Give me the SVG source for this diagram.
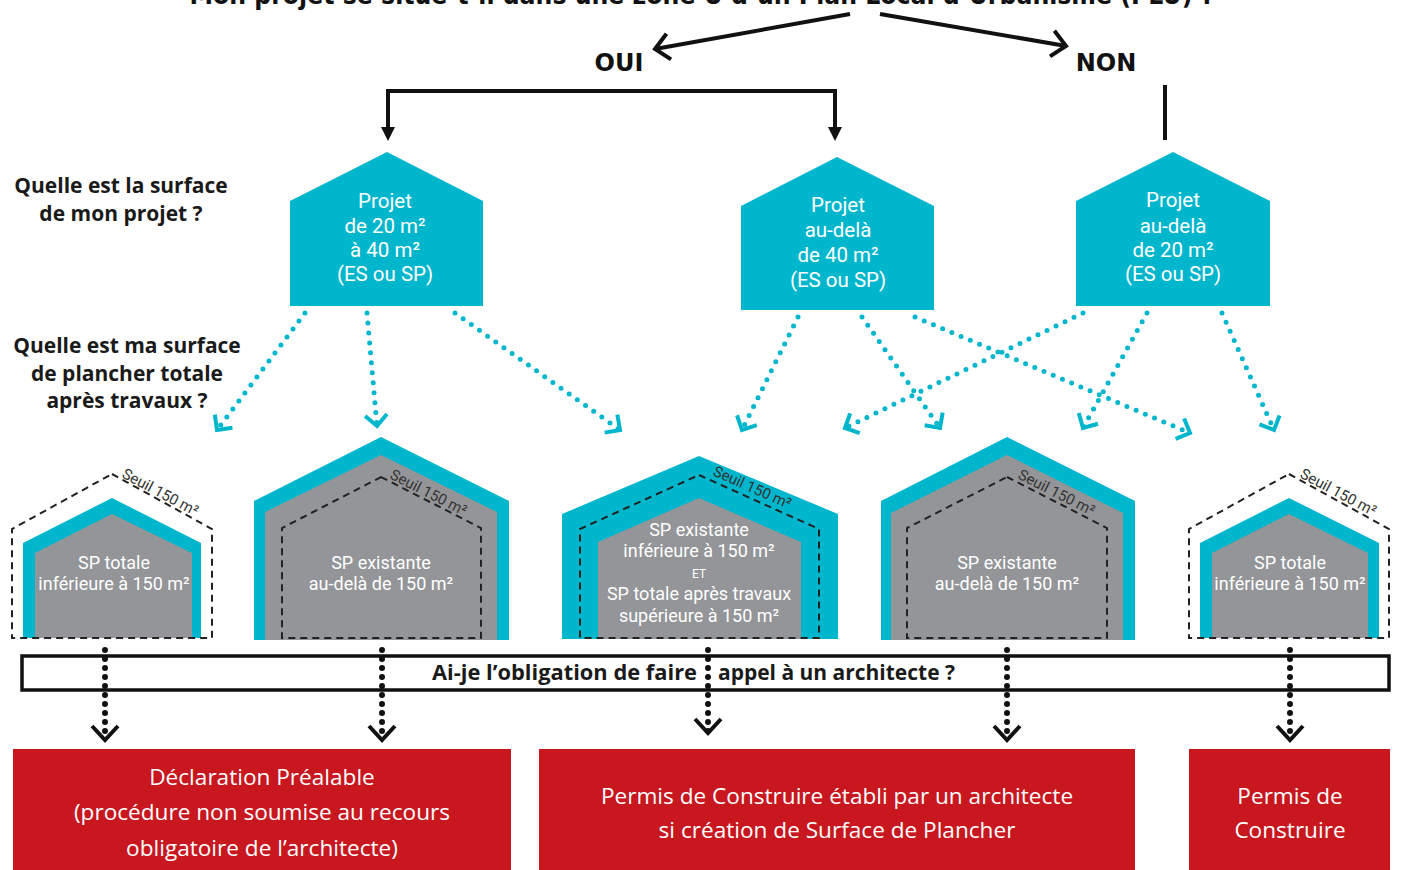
<svg xmlns="http://www.w3.org/2000/svg" width="1404" height="870" viewBox="0 0 1404 870">
<defs>
<style>
.teal{fill:#00b6cc}
.gray{fill:#939598}
.dash{fill:none;stroke:#222;stroke-width:2;stroke-dasharray:7 5}
.ht{font-family:Roboto,"Liberation Sans",sans-serif;fill:#fff;text-anchor:middle}
.up{font-size:20.5px}
.lo{font-size:18px}
.seuil{font-family:Roboto,"Liberation Sans",sans-serif;font-size:15px;fill:#333}
.q{font-family:"Open Sans","Liberation Sans",sans-serif;font-weight:bold;font-size:21px;fill:#1a1a1a;text-anchor:middle}
.yn{font-family:"DejaVu Sans",sans-serif;font-weight:bold;font-size:24px;fill:#111;text-anchor:middle}
.red{fill:#c8171f}
.rt{font-family:"Open Sans","Liberation Sans",sans-serif;font-size:22.6px;fill:#fff;text-anchor:middle}
.tdot{fill:none;stroke:#00b6cc;stroke-width:5;stroke-linecap:round;stroke-dasharray:0 10}
.bdot{fill:none;stroke:#111;stroke-width:6;stroke-linecap:round;stroke-dasharray:0 9}
.blk{fill:none;stroke:#111;stroke-width:4}
</style>
<marker id="tch" markerUnits="userSpaceOnUse" viewBox="-16 -14 20 28" markerWidth="20" markerHeight="28" refX="0" refY="0" orient="auto">
<path d="M-11,-11 L0,0 L-11,11" fill="none" stroke="#00b6cc" stroke-width="4"/>
</marker>
<marker id="bch" markerUnits="userSpaceOnUse" viewBox="-20 -16 24 32" markerWidth="24" markerHeight="32" refX="0" refY="0" orient="auto">
<path d="M-14,-13 L0,0 L-14,13" fill="none" stroke="#111" stroke-width="4"/>
</marker>
<marker id="tri" markerUnits="userSpaceOnUse" viewBox="0 -8 16 16" markerWidth="16" markerHeight="16" refX="0" refY="0" orient="auto">
<path d="M0,-7 L14,0 L0,7 Z" fill="#111"/>
</marker>
</defs>
<rect width="1404" height="870" fill="#fff"/>

<g id="title">
<text x="702" y="4" font-family="DejaVu Sans,sans-serif" font-weight="bold" font-size="26" fill="#111" text-anchor="middle" textLength="1025" lengthAdjust="spacingAndGlyphs">Mon projet se situe-t-il dans une zone U d’un Plan Local d’Urbanisme (PLU) ?</text>
</g>

<g id="answers">
<text class="yn" x="619" y="71">OUI</text>
<text class="yn" x="1106" y="71">NON</text>
</g>

<g id="questions">
<text class="q" x="121" y="193">Quelle est la surface</text>
<text class="q" x="121" y="221">de mon projet ?</text>
<text class="q" x="127" y="353">Quelle est ma surface</text>
<text class="q" x="127" y="381">de plancher totale</text>
<text class="q" x="127" y="408">après travaux ?</text>
</g>

<g id="projet-20-40">
<polygon class="teal" points="387,152 483,201 483,306 290,306 290,201"/>
<text class="ht up" x="385" y="208">Projet</text>
<text class="ht up" x="385" y="233">de 20 m²</text>
<text class="ht up" x="385" y="257">à 40 m²</text>
<text class="ht up" x="385" y="281">(ES ou SP)</text>
</g>
<g id="projet-40">
<polygon class="teal" points="837,157 934,206 934,310 741,310 741,206"/>
<text class="ht up" x="838" y="212">Projet</text>
<text class="ht up" x="838" y="237">au-delà</text>
<text class="ht up" x="838" y="262">de 40 m²</text>
<text class="ht up" x="838" y="287">(ES ou SP)</text>
</g>
<g id="projet-20">
<polygon class="teal" points="1173,152 1270,201 1270,306 1076,306 1076,201"/>
<text class="ht up" x="1173" y="207">Projet</text>
<text class="ht up" x="1173" y="233">au-delà</text>
<text class="ht up" x="1173" y="257">de 20 m²</text>
<text class="ht up" x="1173" y="281">(ES ou SP)</text>
</g>

<g id="sp-totale-1">
<polygon class="teal" points="112,498 201,543 201,638 23,638 23,543"/>
<polygon class="gray" points="112,514 192,553 192,638 35,638 35,553"/>
<polygon class="dash" points="112,474 212,529 212,638 12,638 12,529"/>
<text class="seuil" transform="translate(121,477) rotate(28)">Seuil 150 m²</text>
<text class="ht lo" x="114" y="569">SP totale</text>
<text class="ht lo" x="114" y="590">inférieure à 150 m²</text>
</g>
<g id="sp-existante-1">
<polygon class="teal" points="381,437 509,501 509,640 254,640 254,501"/>
<polygon class="gray" points="381,455 497,512 497,640 265,640 265,512"/>
<polygon class="dash" points="381,477 481,528 481,638 282,638 282,528"/>
<text class="seuil" transform="translate(389,478) rotate(27)">Seuil 150 m²</text>
<text class="ht lo" x="381" y="569">SP existante</text>
<text class="ht lo" x="381" y="590">au-delà de 150 m²</text>
</g>
<g id="sp-mixte">
<polygon class="teal" points="699,456 838,514 838,639 562,639 562,514"/>
<polygon class="gray" points="699,498 801,542 801,639 598,639 598,542"/>
<polygon class="dash" points="699,475 819,529 819,638 580,638 580,529"/>
<text class="seuil" transform="translate(712,475) rotate(24)">Seuil 150 m²</text>
<text class="ht lo" x="699" y="536">SP existante</text>
<text class="ht lo" x="699" y="557">inférieure à 150 m²</text>
<text class="ht" x="699" y="578" font-size="12">ET</text>
<text class="ht lo" x="699" y="600">SP totale après travaux</text>
<text class="ht lo" x="699" y="622">supérieure à 150 m²</text>
</g>
<g id="sp-existante-2">
<polygon class="teal" points="1007,437 1135,501 1135,640 881,640 881,501"/>
<polygon class="gray" points="1007,455 1123,513 1123,640 891,640 891,513"/>
<polygon class="dash" points="1007,477 1107,528 1107,638 907,638 907,528"/>
<text class="seuil" transform="translate(1017,478) rotate(27)">Seuil 150 m²</text>
<text class="ht lo" x="1007" y="569">SP existante</text>
<text class="ht lo" x="1007" y="590">au-delà de 150 m²</text>
</g>
<g id="sp-totale-2">
<polygon class="teal" points="1289,498 1379,543 1379,638 1200,638 1200,543"/>
<polygon class="gray" points="1289,514 1368,553 1368,638 1212,638 1212,553"/>
<polygon class="dash" points="1289,474 1389,529 1389,638 1189,638 1189,529"/>
<text class="seuil" transform="translate(1299,477) rotate(28)">Seuil 150 m²</text>
<text class="ht lo" x="1290" y="569">SP totale</text>
<text class="ht lo" x="1290" y="590">inférieure à 150 m²</text>
</g>

<g id="question-architecte">
<rect x="22" y="656" width="1367" height="34" fill="#fff" stroke="#111" stroke-width="3.5"/>
<text class="q" x="697" y="680" style="text-anchor:end" textLength="265" lengthAdjust="spacingAndGlyphs">Ai-je l’obligation de faire</text>
<text class="q" x="718" y="680" style="text-anchor:start" textLength="237" lengthAdjust="spacingAndGlyphs">appel à un architecte ?</text>
</g>

<g id="declaration-prealable">
<rect class="red" x="13" y="749" width="498" height="130"/>
<text class="rt" x="262" y="785">Déclaration Préalable</text>
<text class="rt" x="262" y="820">(procédure non soumise au recours</text>
<text class="rt" x="262" y="856">obligatoire de l’architecte)</text>
</g>
<g id="permis-architecte">
<rect class="red" x="539" y="749" width="596" height="130"/>
<text class="rt" x="837" y="804">Permis de Construire établi par un architecte</text>
<text class="rt" x="837" y="838">si création de Surface de Plancher</text>
</g>
<g id="permis-construire">
<rect class="red" x="1189" y="749" width="201" height="130"/>
<text class="rt" x="1290" y="804">Permis de</text>
<text class="rt" x="1290" y="838">Construire</text>
</g>

<g id="connectors">
<line class="blk" x1="850" y1="14" x2="655" y2="49" marker-end="url(#bch)"/>
<line class="blk" x1="880" y1="14" x2="1066" y2="46" marker-end="url(#bch)"/>
<polyline class="blk" points="388,128 388,91 835,91 835,128"/>
<line class="blk" x1="388" y1="100" x2="388" y2="127" marker-end="url(#tri)"/>
<line class="blk" x1="835" y1="100" x2="835" y2="127" marker-end="url(#tri)"/>
<line class="blk" x1="1165" y1="85" x2="1165" y2="140"/>

<line class="tdot" x1="305" y1="313" x2="217" y2="430" marker-end="url(#tch)"/>
<line class="tdot" x1="367" y1="313" x2="377" y2="426" marker-end="url(#tch)"/>
<line class="tdot" x1="455" y1="313" x2="620" y2="430" marker-end="url(#tch)"/>
<line class="tdot" x1="798" y1="317" x2="742" y2="430" marker-end="url(#tch)"/>
<line class="tdot" x1="862" y1="317" x2="940" y2="428" marker-end="url(#tch)"/>
<line class="tdot" x1="915" y1="317" x2="1190" y2="433" marker-end="url(#tch)"/>
<line class="tdot" x1="1083" y1="313" x2="845" y2="428" marker-end="url(#tch)"/>
<line class="tdot" x1="1147" y1="313" x2="1083" y2="428" marker-end="url(#tch)"/>
<line class="tdot" x1="1222" y1="313" x2="1274" y2="430" marker-end="url(#tch)"/>

<line class="bdot" x1="105" y1="650" x2="105" y2="740" marker-end="url(#bch)"/>
<line class="bdot" x1="382" y1="650" x2="382" y2="740" marker-end="url(#bch)"/>
<line class="bdot" x1="708" y1="650" x2="708" y2="733" marker-end="url(#bch)"/>
<line class="bdot" x1="1007" y1="650" x2="1007" y2="740" marker-end="url(#bch)"/>
<line class="bdot" x1="1290" y1="650" x2="1290" y2="740" marker-end="url(#bch)"/>
</g>
</svg>
